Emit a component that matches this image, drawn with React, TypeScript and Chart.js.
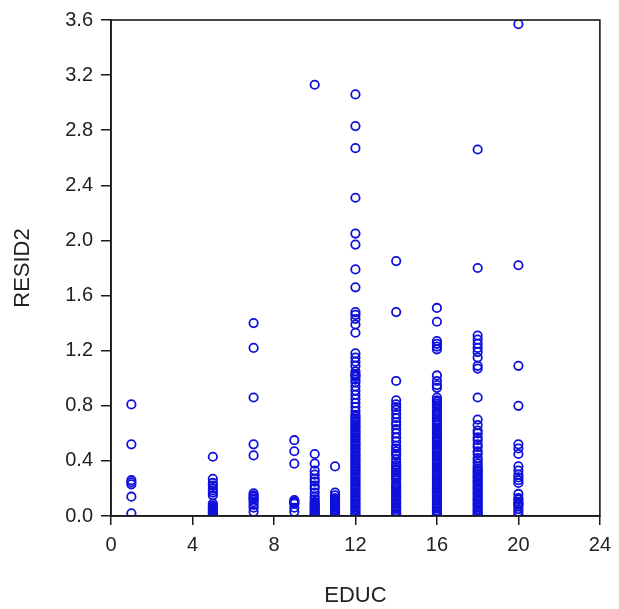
import React, { useEffect, useRef } from "react";
import { Chart, registerables } from "chart.js";

Chart.register(...registerables);

const educLevels = [1, 5, 7, 9, 10, 11, 12, 14, 16, 18, 20];

const resid1 = [0.81, 0.52, 0.26, 0.245, 0.23, 0.14, 0.02];
const resid5 = [0.43, 0.27, 0.24, 0.22, 0.2, 0.185, 0.17, 0.15, 0.09, 0.075, 0.065, 0.055, 0.045, 0.035, 0.025, 0.015, 0.006];
const resid7 = [1.4, 1.22, 0.86, 0.52, 0.44, 0.165, 0.15, 0.14, 0.125, 0.12, 0.1, 0.08, 0.06, 0.03];
const resid9 = [0.55, 0.47, 0.38, 0.115, 0.105, 0.095, 0.09, 0.06, 0.03];
const resid10 = [
  3.13, 0.45, 0.38, 0.33, 0.3, 0.27, 0.25, 0.22, 0.2, 0.17, 0.14, 0.12, 0.1, 0.09, 0.08, 0.07, 0.06, 0.05,
  0.04, 0.03, 0.02, 0.01, 0.003,
];
const resid11 = [0.36, 0.17, 0.15, 0.13, 0.12, 0.11, 0.1, 0.09, 0.08, 0.07, 0.06, 0.05, 0.04, 0.03, 0.02, 0.01];
const resid12 = [
  3.06, 2.83, 2.67, 2.31, 2.05, 1.97, 1.79, 1.66, 1.48, 1.46, 1.43, 1.39, 1.33, 1.18, 1.15, 1.12, 1.09,
  1.05, 1.03, 1.02, 1.01, 0.99, 0.97, 0.94, 0.91, 0.88, 0.85, 0.82, 0.79, 0.76, 0.735,
  0.72, 0.705, 0.69, 0.68, 0.665, 0.65, 0.64, 0.625, 0.61, 0.6, 0.585, 0.57, 0.56, 0.545, 0.53, 0.52,
  0.505, 0.49, 0.48, 0.465, 0.45, 0.44, 0.425, 0.41, 0.4, 0.385, 0.37, 0.36, 0.345, 0.33, 0.32, 0.305,
  0.29, 0.28, 0.265, 0.25, 0.24, 0.225, 0.21, 0.2, 0.185, 0.17, 0.16, 0.145, 0.13, 0.12, 0.105, 0.09,
  0.08, 0.065, 0.05, 0.04, 0.025, 0.012, 0.003,
];
const resid14 = [
  1.85, 1.48, 0.98, 0.84, 0.81, 0.79, 0.77, 0.74, 0.71, 0.68, 0.66, 0.63, 0.6, 0.57, 0.54, 0.51, 0.49,
  0.47, 0.45, 0.44, 0.41, 0.39, 0.37, 0.355, 0.34, 0.33, 0.315, 0.3, 0.29, 0.275, 0.26, 0.235, 0.22,
  0.21, 0.195, 0.18, 0.17, 0.155, 0.14, 0.13, 0.115, 0.1, 0.09, 0.075, 0.06, 0.05, 0.035, 0.02, 0.01,
  0.002,
];
const resid16 = [
  1.51, 1.41, 1.27, 1.25, 1.23, 1.21, 1.02, 0.98, 0.95, 0.93, 0.86,
  0.84, 0.83, 0.815, 0.8, 0.79, 0.775, 0.76, 0.75, 0.735, 0.715, 0.7, 0.69, 0.675, 0.66, 0.64, 0.63,
  0.615, 0.6, 0.59, 0.575, 0.56, 0.55, 0.535, 0.52, 0.51, 0.495, 0.48, 0.47, 0.455, 0.44, 0.43, 0.415,
  0.4, 0.39, 0.375, 0.36, 0.35, 0.335, 0.32, 0.31, 0.295, 0.28, 0.27, 0.255, 0.24, 0.23, 0.215, 0.2,
  0.19, 0.175, 0.16, 0.15, 0.135, 0.12, 0.11, 0.095, 0.08, 0.07, 0.055, 0.04, 0.03, 0.015, 0.004,
];
const resid18 = [
  2.66, 1.8, 1.31, 1.28, 1.25, 1.22, 1.19, 1.15, 1.09, 1.07, 0.86, 0.7, 0.66, 0.62, 0.6, 0.57, 0.55,
  0.52, 0.5, 0.47, 0.45, 0.42, 0.4, 0.38, 0.36, 0.345,
  0.33, 0.32, 0.305, 0.29, 0.28, 0.265, 0.25, 0.24, 0.225, 0.21, 0.2, 0.185, 0.17, 0.16, 0.145, 0.13,
  0.12, 0.105, 0.09, 0.08, 0.065, 0.05, 0.04, 0.025, 0.012, 0.003,
];
const resid20 = [
  3.57, 1.82, 1.09, 0.8, 0.52, 0.49, 0.45, 0.36, 0.33, 0.3, 0.28, 0.26, 0.24, 0.16, 0.13, 0.12, 0.1,
  0.09, 0.085, 0.07, 0.05, 0.03, 0.01,
];

const residByEduc = [resid1, resid5, resid7, resid9, resid10, resid11, resid12, resid14, resid16, resid18, resid20];

const xTitle = "EDUC";
const yTitle = "RESID2";

const FONT = "'Liberation Sans', Arial, sans-serif";
const TEXT = "#222222";
const AXIS = "#1a1a1a";

const framePlugin = {
  id: "frame",
  afterDraw(chart: any) {
    const { ctx, chartArea } = chart;
    ctx.save();
    ctx.strokeStyle = AXIS;
    ctx.lineWidth = 1.6;
    ctx.strokeRect(chartArea.left, chartArea.top, chartArea.right - chartArea.left, chartArea.bottom - chartArea.top);
    ctx.restore();
  },
};

export default function App() {
  const ref = useRef<HTMLCanvasElement | null>(null);

  useEffect(() => {
    if (!ref.current) return;
    const points: { x: number; y: number }[] = [];
    educLevels.forEach((e, i) => {
      residByEduc[i].forEach((v) => points.push({ x: e, y: v }));
    });

    const chart = new Chart(ref.current, {
      type: "scatter",
      data: {
        datasets: [
          {
            label: yTitle,
            data: points,
            pointStyle: "circle",
            pointRadius: 4.2,
            pointBorderWidth: 1.8,
            borderColor: "#1010dc",
            backgroundColor: "rgba(255,255,255,0)",
            pointHoverRadius: 4.2,
          },
        ],
      },
      options: {
        responsive: false,
        animation: false,
        layout: { padding: { top: 18, right: 11, left: 0, bottom: 0 } },
        plugins: { legend: { display: false }, tooltip: { enabled: false } },
        scales: {
          x: {
            type: "linear",
            min: 0,
            max: 24,
            afterFit(scale: any) {
              scale.height = 93;
            },
            ticks: { stepSize: 4, color: TEXT, font: { family: FONT, size: 20 }, padding: 8 },
            grid: { display: true, drawOnChartArea: false, drawTicks: true, tickLength: 9, color: AXIS, lineWidth: 1.5 },
            border: { display: true, color: AXIS, width: 1.6 },
            title: { display: true, text: xTitle, color: TEXT, font: { family: FONT, size: 22 }, padding: { top: 0, bottom: 0 } },
          },
          y: {
            type: "linear",
            min: 0,
            max: 3.6,
            afterFit(scale: any) {
              scale.width = 111;
            },
            ticks: {
              stepSize: 0.4,
              color: TEXT,
              font: { family: FONT, size: 20 },
              padding: 8,
              callback: (v: any) => Number(v).toFixed(1),
            },
            grid: { display: true, drawOnChartArea: false, drawTicks: true, tickLength: 10, color: AXIS, lineWidth: 1.5 },
            border: { display: true, color: AXIS, width: 1.6 },
            title: { display: true, text: yTitle, color: TEXT, font: { family: FONT, size: 22 }, padding: { top: 10, bottom: 0 } },
          },
        },
      },
      plugins: [framePlugin],
    });
    return () => chart.destroy();
  }, []);

  return (
    <div style={{ position: "absolute", left: 0, top: 0, width: 619, height: 609, background: "#fff" }}>
      <canvas ref={ref} width={619} height={609} style={{ display: "block" }} />
    </div>
  );
}
